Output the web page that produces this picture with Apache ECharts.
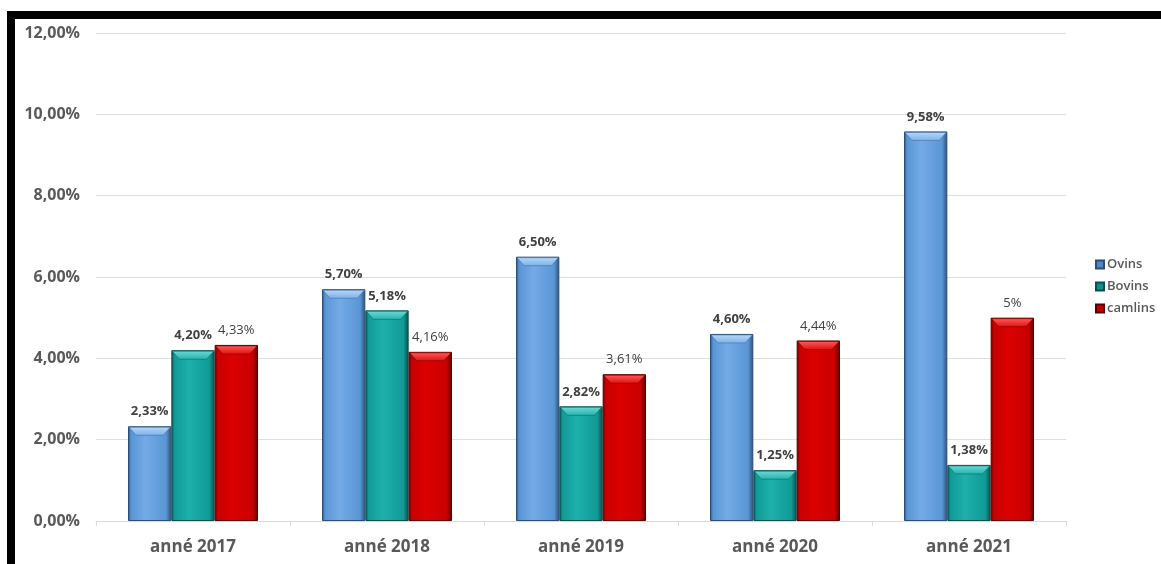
<!DOCTYPE html>
<html>
<head>
<meta charset="utf-8">
<script src="https://cdn.jsdelivr.net/npm/echarts@6/dist/echarts.min.js"></script>
<style>
  html, body { margin: 0; padding: 0; background: #ffffff; }
  #chart { width: 1161px; height: 564px; }
</style>
</head>
<body>
<div id="chart"></div>
<script>
// Categories and series values (percent)
const categories = ['anné 2017', 'anné 2018', 'anné 2019', 'anné 2020', 'anné 2021'];
const ovins = [2.33, 5.70, 6.50, 4.60, 9.58];
const bovins = [4.20, 5.18, 2.82, 1.25, 1.38];
const camlins = [4.33, 4.16, 3.61, 4.44, 5.00];
// Label texts as printed over each bar
const ovinsLabels = ['2,33%', '5,70%', '6,50%', '4,60%', '9,58%'];
const bovinsLabels = ['4,20%', '5,18%', '2,82%', '1,25%', '1,38%'];
const camlinsLabels = ['4,33%', '4,16%', '3,61%', '4,44%', '5%'];
const yTicks = { min: 0, max: 12, interval: 2 };

const FONT = '"Open Sans", "DejaVu Sans", sans-serif';
const TXT = '#595959';
const CAT_GAP = 0.33;   // share of each category left empty around the bar group
const N_SERIES = 3;

// Horizontal gradient giving the bars a bevelled, rounded look
function bevel(dark, mid, light) {
  return new echarts.graphic.LinearGradient(0, 0, 1, 0, [
    { offset: 0, color: dark },
    { offset: 0.07, color: mid },
    { offset: 0.4, color: light },
    { offset: 0.88, color: mid },
    { offset: 1, color: dark }
  ]);
}

function makeSeries(name, values, labels, colors, bold) {
  return {
    name: name,
    type: 'bar',
    data: values,
    barGap: '0%',
    barCategoryGap: (CAT_GAP * 100) + '%',
    itemStyle: {
      color: bevel(colors[0], colors[1], colors[2]),
      borderColor: colors[0],
      borderWidth: 1
    },
    label: {
      show: true,
      position: 'top',
      distance: 8,
      fontFamily: FONT,
      fontSize: 13,
      fontWeight: bold ? 'bold' : 'normal',
      color: '#404040',
      formatter: p => labels[p.dataIndex]
    }
  };
}

// Lighter bevelled cap on top of each bar, placed with the axis scales
function makeCap(values, idx, capColor) {
  return {
    type: 'custom',
    silent: true,
    z: 3,
    data: values.map((v, i) => [i, v]),
    encode: { x: 0, y: 1 },
    renderItem: function (params, api) {
      const top = api.coord([api.value(0), api.value(1)]);
      const band = api.size([1, 0])[0];
      const groupW = band * (1 - CAT_GAP);
      const barW = groupW / N_SERIES;
      const x0 = top[0] - groupW / 2 + barW * idx + 1;
      const x1 = x0 + barW - 2;
      const y0 = top[1] + 1;
      const h = 8, inset = 7;
      return {
        type: 'polygon',
        shape: { points: [[x0, y0], [x1, y0], [x1 - inset, y0 + h], [x0 + inset, y0 + h]] },
        style: {
          fill: new echarts.graphic.LinearGradient(0, 0, 0, 1, [
            { offset: 0, color: capColor[0] },
            { offset: 1, color: capColor[1] }
          ]),
          stroke: capColor[2],
          lineWidth: 0.6
        }
      };
    }
  };
}

const chart = echarts.init(document.getElementById('chart'));
chart.setOption({
  backgroundColor: '#ffffff',
  animation: false,
  grid: { left: 96, right: 95, top: 33, bottom: 43 },
  legend: {
    orient: 'vertical',
    left: 1090,
    top: 253,
    itemWidth: 8,
    itemHeight: 8,
    itemGap: 9,
    icon: 'rect',
    textStyle: { fontFamily: FONT, fontSize: 13, fontWeight: 600, color: TXT, padding: [0, 0, 0, -2] },
    data: [
      { name: 'Ovins', itemStyle: { color: '#4a86c8' } },
      { name: 'Bovins', itemStyle: { color: '#0f8f8a' } },
      { name: 'camlins', itemStyle: { color: '#c00000' } }
    ]
  },
  xAxis: {
    type: 'category',
    data: categories,
    axisLine: { lineStyle: { color: '#d9d9d9', width: 1 } },
    axisTick: { show: true, length: 5, lineStyle: { color: '#d9d9d9' } },
    axisLabel: {
      fontFamily: FONT, fontSize: 17, fontWeight: 'bold', color: TXT, margin: 18
    }
  },
  yAxis: {
    type: 'value',
    min: yTicks.min,
    max: yTicks.max,
    interval: yTicks.interval,
    axisLine: { show: false },
    axisTick: { show: false },
    splitLine: { lineStyle: { color: '#dedede', width: 1 } },
    axisLabel: {
      fontFamily: FONT, fontSize: 16, fontWeight: 'bold', color: TXT, margin: 16,
      formatter: v => v.toFixed(2).replace('.', ',') + '%'
    }
  },
  series: [
    makeSeries('Ovins', ovins, ovinsLabels, ['#2c4d75', '#5996d6', '#74aae6'], true),
    makeSeries('Bovins', bovins, bovinsLabels, ['#0a4f4d', '#109a96', '#1eb0ab'], true),
    makeSeries('camlins', camlins, camlinsLabels, ['#5a0000', '#c80000', '#dc0000'], false),
    makeCap(ovins, 0, ['#b8d7f6', '#7db1e8', '#3f6fa6']),
    makeCap(bovins, 1, ['#6fd8d3', '#22b3ae', '#0b6a67']),
    makeCap(camlins, 2, ['#ff5a5a', '#e01010', '#7a0000'])
  ],
  graphic: [
    // black frame along the top and left edges
    { type: 'rect', shape: { x: 7, y: 11, width: 1154, height: 8 }, style: { fill: '#000' }, z: 100 },
    { type: 'rect', shape: { x: 7, y: 11, width: 8, height: 553 }, style: { fill: '#000' }, z: 100 }
  ]
});
</script>
</body>
</html>
